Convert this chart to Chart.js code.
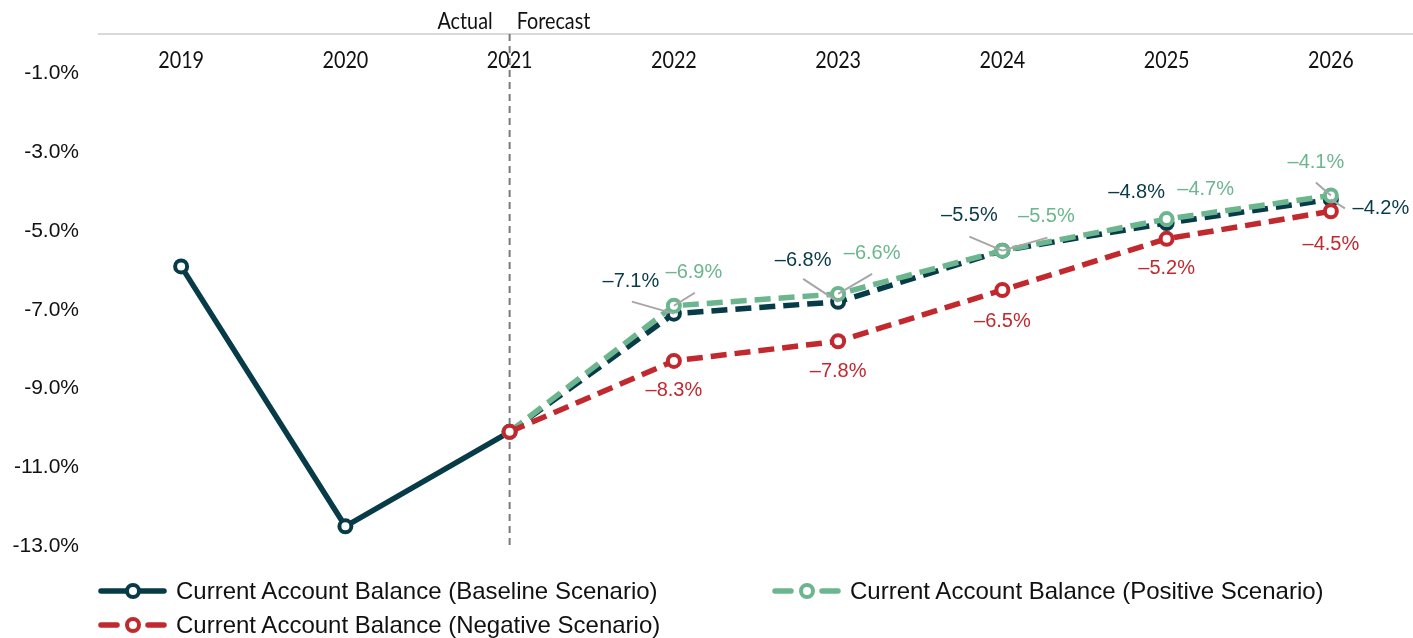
<!DOCTYPE html>
<html>
<head>
<meta charset="utf-8">
<script src="https://cdn.jsdelivr.net/npm/chart.js@4.4.1/dist/chart.umd.min.js"></script>
<style>
  body { margin: 0; background: #fff; }
  #wrap { position: relative; width: 1413px; height: 638px; }
  #chart { position: absolute; left: 0; top: 0; }
  .leg { position: absolute; display: flex; align-items: center; font: 24px "Liberation Sans", Arial, sans-serif; color: #111; white-space: nowrap; }
  .leg svg { margin-right: 8px; }
</style>
</head>
<body>
<div id="wrap">
  <canvas id="chart" width="1413" height="638"></canvas>
  <div class="leg" style="left:98px; top:577px;" id="legBase"></div>
  <div class="leg" style="left:772px; top:577px;" id="legPos"></div>
  <div class="leg" style="left:98px; top:611px;" id="legNeg"></div>
</div>
<script>
// Datos
const years = ['2019', '2020', '2021', '2022', '2023', '2024', '2025', '2026'];
const baseline = [-5.9, -12.5, -10.1, -7.1, -6.8, -5.5, -4.8, -4.2];
const positive = [null, null, -10.1, -6.9, -6.6, -5.5, -4.7, -4.1];
const negative = [null, null, -10.1, -8.3, -7.8, -6.5, -5.2, -4.5];
const yTicks = [-1, -3, -5, -7, -9, -11, -13];
const seriesNames = [
  'Current Account Balance (Baseline Scenario)',
  'Current Account Balance (Positive Scenario)',
  'Current Account Balance (Negative Scenario)'
];
const forecastStart = '2021';

const colores = { base: '#073b47', pos: '#6cb68f', neg: '#c1292f' };

// posicion de etiquetas: [dx, dy, leaderX, leaderY] relativo al punto (null = sin etiqueta)
const labelPosBase = [null, null, null, [-43, -32, -42, -12], [-35, -41, -35, -23], [-33, -35, -33, -14], [-30, -31], [50, 9, 14, 9]];
const labelPosPos = [null, null, null, [20, -33, 21, -13], [34, -40, 34, -20], [44, -34, 45, -13], [39, -30], [-15, -33, -15, -13]];
const labelPosNeg = [null, null, null, [0, 30], [0, 30], [0, 31], [0, 30], [0, 33]];

const thinFont = '400 23px Lato, "Liberation Sans", sans-serif';

const fmt = v => '\u2013' + Math.abs(v).toFixed(1) + '%';

const dash = [16, 8];

// texto estrecho (escala horizontal)
function textoEstrecho(ctx, txt, x, y, align) {
  const k = 0.86;
  ctx.save();
  ctx.translate(x, y);
  ctx.scale(k, 1);
  ctx.textAlign = align;
  ctx.fillText(txt, 0, 0);
  ctx.restore();
}

const etiquetasPlugin = {
  id: 'etiquetas',
  beforeDatasetsDraw(chart) {
    const { ctx, chartArea, scales } = chart;
    const x = scales.x.getPixelForValue(years.indexOf(forecastStart));
    ctx.save();
    ctx.strokeStyle = '#7a7a7a';
    ctx.lineWidth = 2;
    ctx.setLineDash([7, 5]);
    ctx.beginPath();
    ctx.moveTo(x, chartArea.top);
    ctx.lineTo(x, chartArea.bottom);
    ctx.stroke();
    ctx.setLineDash([]);
    // Actual / Forecast
    ctx.font = thinFont;
    ctx.fillStyle = '#111';
    ctx.textBaseline = 'middle';
    textoEstrecho(ctx, 'Actual', x - 17, chartArea.top - 12, 'right');
    textoEstrecho(ctx, 'Forecast', x + 7, chartArea.top - 12, 'left');
    // años
    years.forEach((y, i) => {
      textoEstrecho(ctx, y, scales.x.getPixelForValue(i), chartArea.top + 27, 'center');
    });
    ctx.restore();
  },
  afterDatasetsDraw(chart) {
    const { ctx } = chart;
    const grupos = [
      [0, baseline, labelPosBase, colores.base],
      [1, positive, labelPosPos, colores.pos],
      [2, negative, labelPosNeg, colores.neg]
    ];
    ctx.save();
    ctx.font = '20px "Liberation Sans", Arial, sans-serif';
    ctx.textAlign = 'center';
    ctx.textBaseline = 'middle';
    grupos.forEach(([idx, valores, pos, color]) => {
      const meta = chart.getDatasetMeta(idx);
      valores.forEach((v, i) => {
        const p = pos[i];
        if (v === null || !p) return;
        const pt = meta.data[i];
        if (p.length > 2) {
          ctx.strokeStyle = '#a6a6a6';
          ctx.lineWidth = 2;
          ctx.beginPath();
          ctx.moveTo(pt.x, pt.y);
          ctx.lineTo(pt.x + p[2], pt.y + p[3]);
          ctx.stroke();
        }
        ctx.fillStyle = color;
        ctx.fillText(fmt(v), pt.x + p[0], pt.y + p[1]);
      });
    });
    ctx.restore();
  }
};

const ctx = document.getElementById('chart').getContext('2d');
new Chart(ctx, {
  type: 'line',
  data: {
    labels: years,
    datasets: [
      {
        label: seriesNames[0],
        data: baseline,
        borderColor: colores.base,
        borderWidth: 5.5,
        pointRadius: 6,
        pointBorderWidth: 4,
        pointBackgroundColor: '#fff',
        pointBorderColor: colores.base,
        segment: { borderDash: c => c.p0DataIndex >= 2 ? dash : undefined },
        order: 3
      },
      {
        label: seriesNames[1],
        data: positive,
        borderColor: colores.pos,
        borderWidth: 5.5,
        borderDash: dash,
        pointRadius: 6,
        pointBorderWidth: 4,
        pointBackgroundColor: '#fff',
        pointBorderColor: colores.pos,
        order: 2
      },
      {
        label: seriesNames[2],
        data: negative,
        borderColor: colores.neg,
        borderWidth: 5.5,
        borderDash: dash,
        pointRadius: 6,
        pointBorderWidth: 4,
        pointBackgroundColor: '#fff',
        pointBorderColor: colores.neg,
        order: 1
      }
    ]
  },
  options: {
    responsive: false,
    animation: false,
    layout: { autoPadding: false, padding: { top: 34, bottom: 90, left: 0, right: 0 } },
    plugins: { legend: { display: false }, tooltip: { enabled: false } },
    scales: {
      x: {
        position: 'top',
        offset: true,
        grid: { display: false, drawTicks: false },
        border: { display: true, color: '#d9d9d9', width: 2 },
        ticks: { display: false }
      },
      y: {
        min: -13.05,
        max: 0,
        grid: { display: false, drawTicks: false },
        border: { display: false },
        afterBuildTicks: axis => { axis.ticks = yTicks.map(v => ({ value: v })); },
        afterFit: axis => { axis.width = 99; },
        ticks: {
          padding: 20,
          color: '#111',
          font: { family: '"Liberation Sans", Arial, sans-serif', size: 21 },
          callback: v => v.toFixed(1) + '%'
        }
      }
    }
  },
  plugins: [etiquetasPlugin]
});

// Leyenda
function icono(color, dashed) {
  let lineas;
  if (dashed) {
    lineas = `<line x1="3" y1="10" x2="19" y2="10" stroke="${color}" stroke-width="5.5" stroke-linecap="round"/>
      <line x1="50" y1="10" x2="66" y2="10" stroke="${color}" stroke-width="5.5" stroke-linecap="round"/>`;
  } else {
    lineas = `<line x1="3" y1="10" x2="66" y2="10" stroke="${color}" stroke-width="5.5" stroke-linecap="round"/>`;
  }
  return `<svg width="70" height="20">${lineas}<circle cx="35" cy="10" r="6" fill="#fff" stroke="${color}" stroke-width="4"/></svg>`;
}
document.getElementById('legBase').innerHTML = icono(colores.base, false) + '<span>' + seriesNames[0] + '</span>';
document.getElementById('legPos').innerHTML = icono(colores.pos, true) + '<span>' + seriesNames[1] + '</span>';
document.getElementById('legNeg').innerHTML = icono(colores.neg, true) + '<span>' + seriesNames[2] + '</span>';
</script>
</body>
</html>
